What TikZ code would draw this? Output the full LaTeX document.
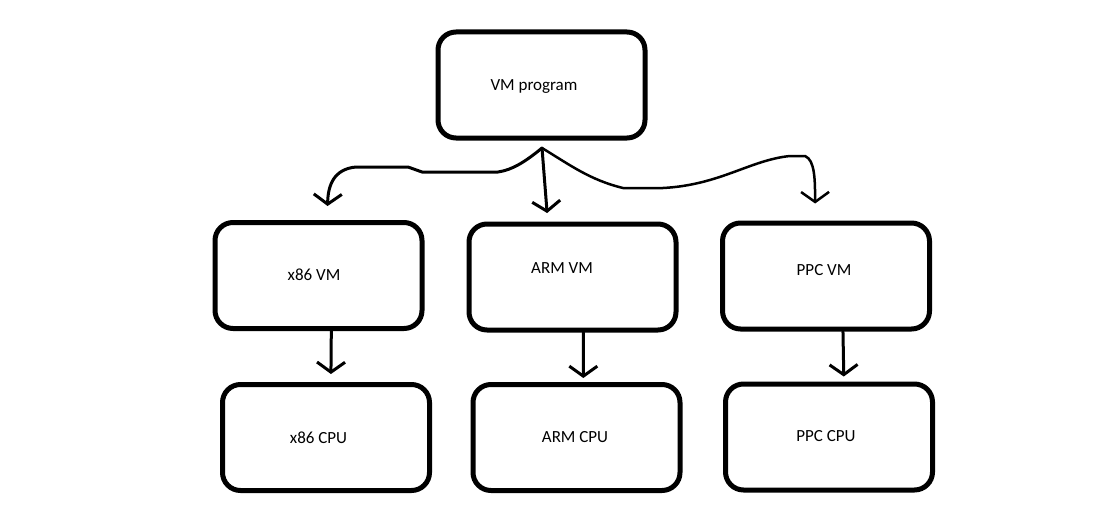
\documentclass[tikz,border=0pt]{standalone}
\usepackage{fontspec}
\setmainfont{Carlito}
\usetikzlibrary{arrows.meta}

\begin{document}
\begin{tikzpicture}[
            x=1pt, y=-1pt,
            >={Straight Barb[length=10pt,width=28pt]},
            box/.style={draw, line width=5pt, rounded corners=18pt,
                minimum width=207pt, minimum height=106pt},
            boxtext/.style={font=\fontsize{17}{20}\selectfont},
            link/.style={->, line width=3pt, line cap=round, line join=round}
        ]
        \useasboundingbox (0,0) rectangle (1102,519);

        % Nodes
        \node[box, label={[boxtext, name=vmprogtxt, shift={(-7.5,2)}]center:VM program}] (vmprog) at (541.5,85) {};
        \node[box, label={[boxtext, name=x86vmtxt, shift={(-4.5,-1)}]center:x86 VM}] (x86vm) at (318.5,275.5) {};
        \node[box, label={[boxtext, name=armvmtxt, shift={(-10.5,-9)}]center:ARM VM}] (armvm) at (572.5,277) {};
        \node[box, label={[boxtext, name=ppcvmtxt, shift={(-2,-6)}]center:PPC VM}] (ppcvm) at (826,276) {};
        \node[box, label={[boxtext, name=x86cputxt, shift={(-7.5,0.5)}]center:x86 CPU}] (x86cpu) at (326,437.5) {};
        \node[box, label={[boxtext, name=armcputxt, shift={(-1.5,0)}]center:ARM CPU}] (armcpu) at (576.5,437.5) {};
        \node[box, label={[boxtext, name=ppccputxt, shift={(-3,-1)}]center:PPC CPU}] (ppccpu) at (829,437) {};

        \coordinate (fork) at (542,148);

        % Edges (program to each VM)
        \draw[link, shorten >=14pt] (fork) .. controls (525,162) and (512,170) .. (498,172)
            -- (422,172) -- (408,167) -- (356,167)
            .. controls (334,169) and (328,185) .. (x86vm.81);
        \draw[link, shorten >=8.5pt] (fork) -- (armvm.114);
        \draw[link, line width=2.5pt, shorten >=17pt] (fork) .. controls (570,165) and (590,180) .. (623,188)
            -- (663,188) .. controls (720,185) and (750,160) .. (790,156)
            -- (805,156) .. controls (815,160) and (815,180) .. (ppcvm.101);

        % Edges (each VM to its CPU)
        \path[link]
        (x86vm.-77) edge[shorten >=8pt] (x86cpu.85)
        (armvm.-79) edge[shorten >=4pt] (armcpu.83)
        (ppcvm.-73) edge[shorten >=5pt] (ppccpu.75);

        \end{tikzpicture}
\end{document}
